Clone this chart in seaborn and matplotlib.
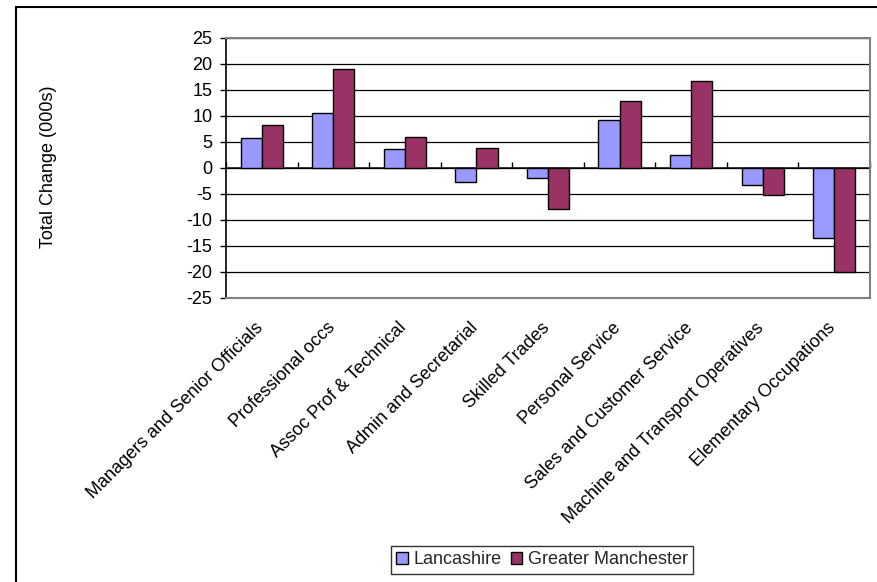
import matplotlib
matplotlib.use("Agg")
import matplotlib.pyplot as plt
from matplotlib.patches import Rectangle
from matplotlib.transforms import ScaledTranslation
import seaborn as sns
import pandas as pd

occupations = [
    "Managers and Senior Officials",
    "Professional occs",
    "Assoc Prof & Technical",
    "Admin and Secretarial",
    "Skilled Trades",
    "Personal Service",
    "Sales and Customer Service",
    "Machine and Transport Operatives",
    "Elementary Occupations",
]
lancashire = [5.8, 10.5, 3.6, -2.7, -1.9, 9.3, 2.5, -3.3, -13.4]
greater_manchester = [8.3, 19.0, 6.0, 3.9, -7.9, 12.9, 16.8, -5.2, -20.0]
regions = ["Lancashire", "Greater Manchester"]
colors = ["#9999FF", "#993366"]
y_ticks = list(range(-25, 26, 5))

df = pd.DataFrame({
    "Occupation": occupations * 2,
    "Change": lancashire + greater_manchester,
    "Region": [regions[0]] * len(occupations) + [regions[1]] * len(occupations),
})

sns.set_theme(style="white")
plt.rcParams["font.family"] = ["Liberation Sans", "DejaVu Sans"]
plt.rcParams["axes.unicode_minus"] = False

fig = plt.figure(figsize=(8.78, 5.82), dpi=100)
fig.patch.set_facecolor("white")
W, H = 878, 582

# outer chart frame (runs off the right and bottom edges)
fig.patches.append(Rectangle((16 / W, -0.2), 1.2, 1.2 - 7 / H, transform=fig.transFigure,
                             fill=False, edgecolor="black", linewidth=1.5))

ax = fig.add_axes([226 / W, 1 - 298 / H, (870 - 226) / W, (298 - 38) / H])

sns.barplot(data=df, x="Occupation", y="Change", hue="Region", palette=colors,
            width=0.59, edgecolor="black", linewidth=1.0, saturation=1,
            ax=ax, zorder=3)
handles, labels = ax.get_legend_handles_labels()
if ax.get_legend() is not None:
    ax.get_legend().remove()

ax.set_ylim(-25, 25)
ax.set_xlim(-0.5, len(occupations) - 0.5)
ax.set_yticks(y_ticks)
ax.set_xlabel("")
ax.set_ylabel("")
ax.yaxis.grid(True, color="black", linewidth=0.9, zorder=0)
ax.set_axisbelow(True)

for side in ("top", "right", "bottom"):
    ax.spines[side].set_color("#808080")
    ax.spines[side].set_linewidth(1.5)
ax.spines["left"].set_color("black")
ax.spines["left"].set_linewidth(1.2)

ax.tick_params(axis="y", direction="out", length=4.3, width=1, color="black",
               pad=5.5, labelsize=13, labelcolor="black", left=True)
ax.tick_params(axis="x", length=0, pad=6, labelsize=13, labelcolor="black")
ax.set_xticks(range(len(occupations)))
ax.set_xticklabels(occupations, rotation=45, ha="right", va="top",
                   rotation_mode="anchor")
shift = ScaledTranslation(-7 / 100, -13 / 100, fig.dpi_scale_trans)
for lbl in ax.get_xticklabels():
    lbl.set_transform(lbl.get_transform() + shift)

# category axis drawn through zero with boundary tick marks
zero_axis = ax.secondary_xaxis(0.5)
zero_axis.set_xticks([i - 0.5 for i in range(len(occupations) + 1)])
zero_axis.set_xticklabels([])
zero_axis.tick_params(direction="out", length=4, width=1, color="black")
zero_axis.spines["bottom"].set_color("black")
zero_axis.spines["bottom"].set_linewidth(1.2)

fig.text(49 / W, 1 - 167 / H, "Total Change (000s)", rotation=90,
         ha="center", va="center", fontsize=13, color="black")

leg = fig.legend(handles, labels, loc="center", bbox_to_anchor=(542 / W, 1 - 560 / H),
                 ncol=2, frameon=True, fancybox=False, fontsize=13,
                 handlelength=0.65, handleheight=0.65, handletextpad=0.3,
                 columnspacing=0.5, borderpad=0.3, borderaxespad=0)
leg.get_frame().set_edgecolor("black")
leg.get_frame().set_linewidth(1.0)

fig.savefig("out.png", dpi=100, facecolor="white")
